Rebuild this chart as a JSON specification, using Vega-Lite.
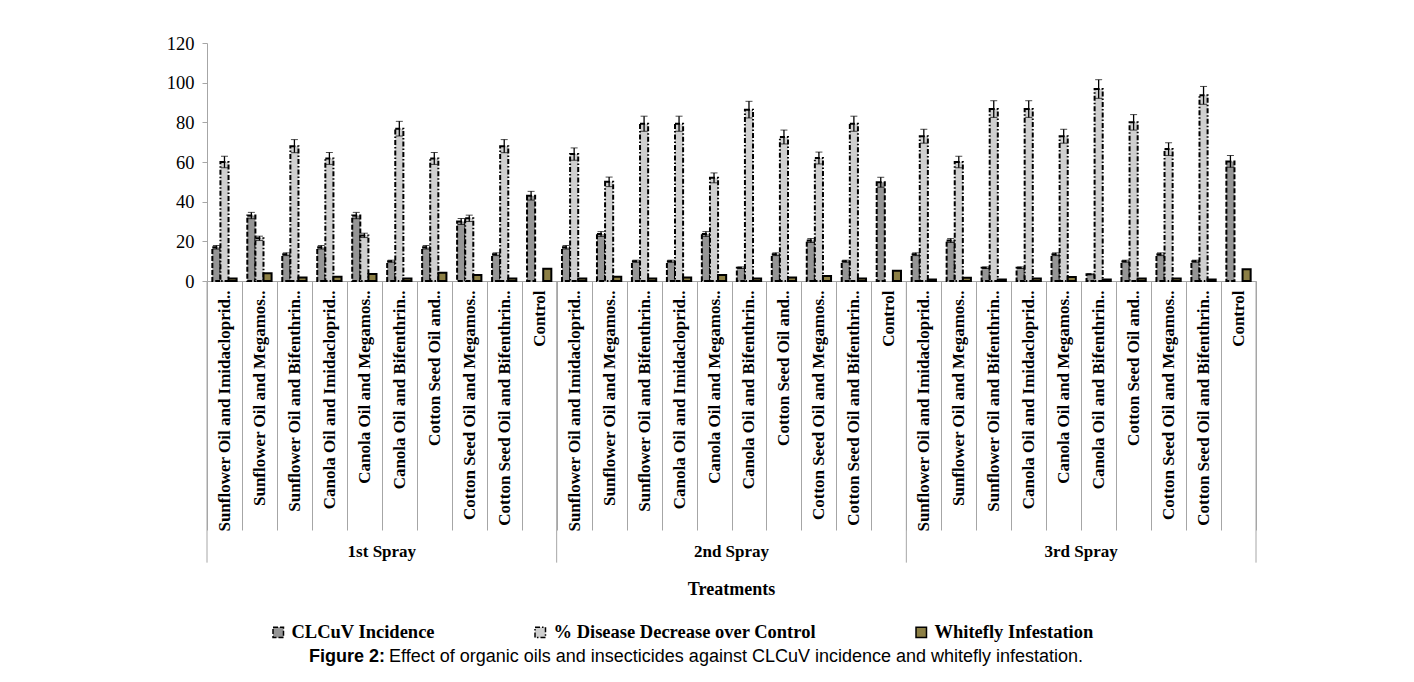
{
  "$schema": "https://vega.github.io/schema/vega-lite/v6.json",
  "padding": {"left": 166, "top": 34, "right": 150, "bottom": 5},
  "background": "white",
  "width": 1049,
  "height": 238,
  "data": {"values": [
    {"spray": "1st Spray", "key": "01|Sunflower Oil and Imidacloprid..", "series": "CLCuV Incidence", "value": 17, "err": 0.9},
    {"spray": "1st Spray", "key": "01|Sunflower Oil and Imidacloprid..", "series": "% Disease Decrease over Control", "value": 60, "err": 2.9},
    {"spray": "1st Spray", "key": "01|Sunflower Oil and Imidacloprid..", "series": "Whitefly Infestation", "value": 1.3},
    {"spray": "1st Spray", "key": "02|Sunflower Oil and Megamos..", "series": "CLCuV Incidence", "value": 33, "err": 1.6},
    {"spray": "1st Spray", "key": "02|Sunflower Oil and Megamos..", "series": "% Disease Decrease over Control", "value": 21.5, "err": 1.1},
    {"spray": "1st Spray", "key": "02|Sunflower Oil and Megamos..", "series": "Whitefly Infestation", "value": 3.9},
    {"spray": "1st Spray", "key": "03|Sunflower Oil and Bifenthrin..", "series": "CLCuV Incidence", "value": 13.5, "err": 0.7},
    {"spray": "1st Spray", "key": "03|Sunflower Oil and Bifenthrin..", "series": "% Disease Decrease over Control", "value": 68, "err": 3.3},
    {"spray": "1st Spray", "key": "03|Sunflower Oil and Bifenthrin..", "series": "Whitefly Infestation", "value": 1.8},
    {"spray": "1st Spray", "key": "04|Canola Oil and Imidacloprid..", "series": "CLCuV Incidence", "value": 17, "err": 0.9},
    {"spray": "1st Spray", "key": "04|Canola Oil and Imidacloprid..", "series": "% Disease Decrease over Control", "value": 61.8, "err": 3.0},
    {"spray": "1st Spray", "key": "04|Canola Oil and Imidacloprid..", "series": "Whitefly Infestation", "value": 2.2},
    {"spray": "1st Spray", "key": "05|Canola Oil and Megamos..", "series": "CLCuV Incidence", "value": 33, "err": 1.6},
    {"spray": "1st Spray", "key": "05|Canola Oil and Megamos..", "series": "% Disease Decrease over Control", "value": 23, "err": 1.1},
    {"spray": "1st Spray", "key": "05|Canola Oil and Megamos..", "series": "Whitefly Infestation", "value": 3.5},
    {"spray": "1st Spray", "key": "06|Canola Oil and Bifenthrin..", "series": "CLCuV Incidence", "value": 10, "err": 0.5},
    {"spray": "1st Spray", "key": "06|Canola Oil and Bifenthrin..", "series": "% Disease Decrease over Control", "value": 76.8, "err": 3.7},
    {"spray": "1st Spray", "key": "06|Canola Oil and Bifenthrin..", "series": "Whitefly Infestation", "value": 1.3},
    {"spray": "1st Spray", "key": "07|Cotton Seed Oil and..", "series": "CLCuV Incidence", "value": 17, "err": 0.9},
    {"spray": "1st Spray", "key": "07|Cotton Seed Oil and..", "series": "% Disease Decrease over Control", "value": 61.8, "err": 3.0},
    {"spray": "1st Spray", "key": "07|Cotton Seed Oil and..", "series": "Whitefly Infestation", "value": 4.2},
    {"spray": "1st Spray", "key": "08|Cotton Seed Oil and Megamos..", "series": "CLCuV Incidence", "value": 30, "err": 1.5},
    {"spray": "1st Spray", "key": "08|Cotton Seed Oil and Megamos..", "series": "% Disease Decrease over Control", "value": 31.6, "err": 1.6},
    {"spray": "1st Spray", "key": "08|Cotton Seed Oil and Megamos..", "series": "Whitefly Infestation", "value": 3.0},
    {"spray": "1st Spray", "key": "09|Cotton Seed Oil and Bifenthrin..", "series": "CLCuV Incidence", "value": 13.5, "err": 0.7},
    {"spray": "1st Spray", "key": "09|Cotton Seed Oil and Bifenthrin..", "series": "% Disease Decrease over Control", "value": 68, "err": 3.3},
    {"spray": "1st Spray", "key": "09|Cotton Seed Oil and Bifenthrin..", "series": "Whitefly Infestation", "value": 1.3},
    {"spray": "1st Spray", "key": "10|Control", "series": "CLCuV Incidence", "value": 43, "err": 2.2},
    {"spray": "1st Spray", "key": "10|Control", "series": "Whitefly Infestation", "value": 6.2},

    {"spray": "2nd Spray", "key": "11|Sunflower Oil and Imidacloprid..", "series": "CLCuV Incidence", "value": 17, "err": 0.9},
    {"spray": "2nd Spray", "key": "11|Sunflower Oil and Imidacloprid..", "series": "% Disease Decrease over Control", "value": 64, "err": 3.1},
    {"spray": "2nd Spray", "key": "11|Sunflower Oil and Imidacloprid..", "series": "Whitefly Infestation", "value": 1.3},
    {"spray": "2nd Spray", "key": "12|Sunflower Oil and Megamos..", "series": "CLCuV Incidence", "value": 23.7, "err": 1.2},
    {"spray": "2nd Spray", "key": "12|Sunflower Oil and Megamos..", "series": "% Disease Decrease over Control", "value": 50, "err": 2.4},
    {"spray": "2nd Spray", "key": "12|Sunflower Oil and Megamos..", "series": "Whitefly Infestation", "value": 2.2},
    {"spray": "2nd Spray", "key": "13|Sunflower Oil and Bifenthrin..", "series": "CLCuV Incidence", "value": 10, "err": 0.5},
    {"spray": "2nd Spray", "key": "13|Sunflower Oil and Bifenthrin..", "series": "% Disease Decrease over Control", "value": 79.3, "err": 3.8},
    {"spray": "2nd Spray", "key": "13|Sunflower Oil and Bifenthrin..", "series": "Whitefly Infestation", "value": 1.3},
    {"spray": "2nd Spray", "key": "14|Canola Oil and Imidacloprid..", "series": "CLCuV Incidence", "value": 10, "err": 0.5},
    {"spray": "2nd Spray", "key": "14|Canola Oil and Imidacloprid..", "series": "% Disease Decrease over Control", "value": 79.3, "err": 3.8},
    {"spray": "2nd Spray", "key": "14|Canola Oil and Imidacloprid..", "series": "Whitefly Infestation", "value": 1.8},
    {"spray": "2nd Spray", "key": "15|Canola Oil and Megamos..", "series": "CLCuV Incidence", "value": 23.7, "err": 1.2},
    {"spray": "2nd Spray", "key": "15|Canola Oil and Megamos..", "series": "% Disease Decrease over Control", "value": 52, "err": 2.5},
    {"spray": "2nd Spray", "key": "15|Canola Oil and Megamos..", "series": "Whitefly Infestation", "value": 3.0},
    {"spray": "2nd Spray", "key": "16|Canola Oil and Bifenthrin..", "series": "CLCuV Incidence", "value": 6.7, "err": 0.4},
    {"spray": "2nd Spray", "key": "16|Canola Oil and Bifenthrin..", "series": "% Disease Decrease over Control", "value": 86.4, "err": 4.2},
    {"spray": "2nd Spray", "key": "16|Canola Oil and Bifenthrin..", "series": "Whitefly Infestation", "value": 1.2},
    {"spray": "2nd Spray", "key": "17|Cotton Seed Oil and..", "series": "CLCuV Incidence", "value": 13.5, "err": 0.7},
    {"spray": "2nd Spray", "key": "17|Cotton Seed Oil and..", "series": "% Disease Decrease over Control", "value": 72.6, "err": 3.5},
    {"spray": "2nd Spray", "key": "17|Cotton Seed Oil and..", "series": "Whitefly Infestation", "value": 1.8},
    {"spray": "2nd Spray", "key": "18|Cotton Seed Oil and Megamos..", "series": "CLCuV Incidence", "value": 20.4, "err": 1.0},
    {"spray": "2nd Spray", "key": "18|Cotton Seed Oil and Megamos..", "series": "% Disease Decrease over Control", "value": 62, "err": 3.0},
    {"spray": "2nd Spray", "key": "18|Cotton Seed Oil and Megamos..", "series": "Whitefly Infestation", "value": 2.5},
    {"spray": "2nd Spray", "key": "19|Cotton Seed Oil and Bifenthrin..", "series": "CLCuV Incidence", "value": 10, "err": 0.5},
    {"spray": "2nd Spray", "key": "19|Cotton Seed Oil and Bifenthrin..", "series": "% Disease Decrease over Control", "value": 79.3, "err": 3.8},
    {"spray": "2nd Spray", "key": "19|Cotton Seed Oil and Bifenthrin..", "series": "Whitefly Infestation", "value": 1.2},
    {"spray": "2nd Spray", "key": "20|Control", "series": "CLCuV Incidence", "value": 49.8, "err": 2.5},
    {"spray": "2nd Spray", "key": "20|Control", "series": "Whitefly Infestation", "value": 5.2},

    {"spray": "3rd Spray", "key": "21|Sunflower Oil and Imidacloprid..", "series": "CLCuV Incidence", "value": 13.5, "err": 0.7},
    {"spray": "3rd Spray", "key": "21|Sunflower Oil and Imidacloprid..", "series": "% Disease Decrease over Control", "value": 73, "err": 3.5},
    {"spray": "3rd Spray", "key": "21|Sunflower Oil and Imidacloprid..", "series": "Whitefly Infestation", "value": 0.8},
    {"spray": "3rd Spray", "key": "22|Sunflower Oil and Megamos..", "series": "CLCuV Incidence", "value": 20.4, "err": 1.0},
    {"spray": "3rd Spray", "key": "22|Sunflower Oil and Megamos..", "series": "% Disease Decrease over Control", "value": 60, "err": 2.9},
    {"spray": "3rd Spray", "key": "22|Sunflower Oil and Megamos..", "series": "Whitefly Infestation", "value": 1.7},
    {"spray": "3rd Spray", "key": "23|Sunflower Oil and Bifenthrin..", "series": "CLCuV Incidence", "value": 6.7, "err": 0.4},
    {"spray": "3rd Spray", "key": "23|Sunflower Oil and Bifenthrin..", "series": "% Disease Decrease over Control", "value": 86.7, "err": 4.2},
    {"spray": "3rd Spray", "key": "23|Sunflower Oil and Bifenthrin..", "series": "Whitefly Infestation", "value": 0.8},
    {"spray": "3rd Spray", "key": "24|Canola Oil and Imidacloprid..", "series": "CLCuV Incidence", "value": 6.7, "err": 0.4},
    {"spray": "3rd Spray", "key": "24|Canola Oil and Imidacloprid..", "series": "% Disease Decrease over Control", "value": 86.7, "err": 4.2},
    {"spray": "3rd Spray", "key": "24|Canola Oil and Imidacloprid..", "series": "Whitefly Infestation", "value": 1.3},
    {"spray": "3rd Spray", "key": "25|Canola Oil and Megamos..", "series": "CLCuV Incidence", "value": 13.5, "err": 0.7},
    {"spray": "3rd Spray", "key": "25|Canola Oil and Megamos..", "series": "% Disease Decrease over Control", "value": 73, "err": 3.5},
    {"spray": "3rd Spray", "key": "25|Canola Oil and Megamos..", "series": "Whitefly Infestation", "value": 2.0},
    {"spray": "3rd Spray", "key": "26|Canola Oil and Bifenthrin..", "series": "CLCuV Incidence", "value": 3.4, "err": 0.2},
    {"spray": "3rd Spray", "key": "26|Canola Oil and Bifenthrin..", "series": "% Disease Decrease over Control", "value": 96.8, "err": 4.7},
    {"spray": "3rd Spray", "key": "26|Canola Oil and Bifenthrin..", "series": "Whitefly Infestation", "value": 0.7},
    {"spray": "3rd Spray", "key": "27|Cotton Seed Oil and..", "series": "CLCuV Incidence", "value": 10, "err": 0.5},
    {"spray": "3rd Spray", "key": "27|Cotton Seed Oil and..", "series": "% Disease Decrease over Control", "value": 80, "err": 3.9},
    {"spray": "3rd Spray", "key": "27|Cotton Seed Oil and..", "series": "Whitefly Infestation", "value": 1.2},
    {"spray": "3rd Spray", "key": "28|Cotton Seed Oil and Megamos..", "series": "CLCuV Incidence", "value": 13.5, "err": 0.7},
    {"spray": "3rd Spray", "key": "28|Cotton Seed Oil and Megamos..", "series": "% Disease Decrease over Control", "value": 66.5, "err": 3.2},
    {"spray": "3rd Spray", "key": "28|Cotton Seed Oil and Megamos..", "series": "Whitefly Infestation", "value": 1.3},
    {"spray": "3rd Spray", "key": "29|Cotton Seed Oil and Bifenthrin..", "series": "CLCuV Incidence", "value": 10, "err": 0.5},
    {"spray": "3rd Spray", "key": "29|Cotton Seed Oil and Bifenthrin..", "series": "% Disease Decrease over Control", "value": 93.6, "err": 4.5},
    {"spray": "3rd Spray", "key": "29|Cotton Seed Oil and Bifenthrin..", "series": "Whitefly Infestation", "value": 0.8},
    {"spray": "3rd Spray", "key": "30|Control", "series": "CLCuV Incidence", "value": 60.3, "err": 3.0},
    {"spray": "3rd Spray", "key": "30|Control", "series": "Whitefly Infestation", "value": 5.9}
  ]},
  "layer": [
    {
      "mark": {"type": "bar", "stroke": "black", "strokeWidth": 2},
      "encoding": {
        "x": {"field": "key", "type": "nominal", "sort": "ascending",
          "scale": {"paddingInner": 0, "paddingOuter": 0},
          "axis": {"title": null, "labelExpr": "split(datum.value, '|')[1]", "labelAngle": -90, "tickBand": "extent", "tickSize": 249, "tickColor": "#a6a6a6", "tickWidth": 1, "domainColor": "#a6a6a6", "labelPadding": -240, "labelFont": "Liberation Serif", "labelFontWeight": "bold", "labelFontSize": 17, "labelColor": "black", "labelLimit": 400, "labelOverlap": false}},
        "xOffset": {"field": "series", "sort": ["CLCuV Incidence", "% Disease Decrease over Control", "Whitefly Infestation"], "scale": {"paddingOuter": 0.66, "paddingInner": 0}},
        "y": {"field": "value", "type": "quantitative", "scale": {"domain": [0, 120], "nice": false},
          "axis": {"title": null, "values": [0, 20, 40, 60, 80, 100, 120], "tickCount": 7, "grid": false, "labelOverlap": false, "labelSeparation": 0, "labelBound": false, "domainColor": "#a6a6a6", "tickColor": "#a6a6a6", "tickSize": 5, "labelPadding": 8, "labelFont": "Liberation Serif", "labelFontSize": 18.5, "labelColor": "black"}},
        "color": {"field": "series", "type": "nominal",
          "scale": {"domain": ["CLCuV Incidence", "% Disease Decrease over Control", "Whitefly Infestation"], "range": ["#959595", "#cfcfcf", "#8c7f45"]},
          "legend": {"title": null, "orient": "none", "legendX": 62, "legendY": 580, "direction": "horizontal", "symbolType": "square", "symbolSize": 110, "symbolStrokeColor": "black", "symbolStrokeWidth": 1.5, "labelFont": "Liberation Serif", "labelFontSize": 18.5, "labelFontWeight": "bold", "labelColor": "black", "columnPadding": 96, "labelLimit": 400}},
        "strokeDash": {"field": "series", "type": "nominal",
          "scale": {"domain": ["CLCuV Incidence", "% Disease Decrease over Control", "Whitefly Infestation"], "range": [[5, 2], [5, 2, 1.5, 2], [1, 0]]},
          "legend": null}
      }
    },
    {
      "transform": [{"filter": "isValid(datum.err)"}],
      "mark": {"type": "errorbar", "ticks": {"size": 7, "color": "black"}, "rule": {"color": "black", "strokeWidth": 1.3}},
      "encoding": {
        "x": {"field": "key", "type": "nominal", "sort": "ascending"},
        "xOffset": {"field": "series", "sort": ["CLCuV Incidence", "% Disease Decrease over Control", "Whitefly Infestation"]},
        "y": {"field": "value", "type": "quantitative", "axis": {"title": null, "values": [0, 20, 40, 60, 80, 100, 120], "labelOverlap": false}},
        "yError": {"field": "err"}
      }
    },
    {
      "transform": [{"filter": "datum.series == 'CLCuV Incidence' && (datum.key == '01|Sunflower Oil and Imidacloprid..' || datum.key == '11|Sunflower Oil and Imidacloprid..' || datum.key == '21|Sunflower Oil and Imidacloprid..')"}],
      "mark": {"type": "rule", "color": "#a6a6a6", "strokeWidth": 1},
      "encoding": {
        "x": {"field": "key", "type": "nominal", "sort": "ascending", "bandPosition": 0},
        "y": {"datum": 0},
        "y2": {"datum": -142}
      }
    },
    {
      "transform": [{"filter": "datum.series == 'CLCuV Incidence' && datum.key == '30|Control'"}],
      "mark": {"type": "rule", "color": "#a6a6a6", "strokeWidth": 1},
      "encoding": {
        "x": {"field": "key", "type": "nominal", "sort": "ascending", "bandPosition": 1},
        "y": {"datum": 0},
        "y2": {"datum": -142}
      }
    },
    {
      "transform": [{"filter": "datum.series == 'CLCuV Incidence' && (datum.key == '05|Canola Oil and Megamos..' || datum.key == '15|Canola Oil and Megamos..' || datum.key == '25|Canola Oil and Megamos..')"}],
      "mark": {"type": "text", "font": "Liberation Serif", "fontSize": 17, "fontWeight": "bold", "color": "black", "align": "center", "baseline": "middle"},
      "encoding": {
        "x": {"field": "key", "type": "nominal", "sort": "ascending", "bandPosition": 1},
        "y": {"datum": -136.6},
        "text": {"field": "spray"}
      }
    },
    {
      "transform": [{"filter": "datum.series == 'CLCuV Incidence' && datum.key == '15|Canola Oil and Megamos..'"}],
      "mark": {"type": "text", "font": "Liberation Serif", "fontSize": 18, "fontWeight": "bold", "color": "black", "align": "center", "baseline": "middle"},
      "encoding": {
        "x": {"field": "key", "type": "nominal", "sort": "ascending", "bandPosition": 1},
        "y": {"datum": -155.8},
        "text": {"value": "Treatments"}
      }
    },
    {
      "transform": [{"filter": "datum.series == 'CLCuV Incidence' && datum.key == '06|Canola Oil and Bifenthrin..'"}],
      "mark": {"type": "text", "font": "Liberation Sans", "fontSize": 18, "fontWeight": "bold", "color": "black", "align": "right", "baseline": "middle", "dx": -4},
      "encoding": {
        "x": {"field": "key", "type": "nominal", "sort": "ascending", "bandPosition": 0.206},
        "y": {"datum": -189.6},
        "text": {"value": "Figure 2:"}
      }
    },
    {
      "transform": [{"filter": "datum.series == 'CLCuV Incidence' && datum.key == '06|Canola Oil and Bifenthrin..'"}],
      "mark": {"type": "text", "font": "Liberation Sans", "fontSize": 18, "fontWeight": "normal", "color": "black", "align": "left", "baseline": "middle"},
      "encoding": {
        "x": {"field": "key", "type": "nominal", "sort": "ascending", "bandPosition": 0.206},
        "y": {"datum": -189.6},
        "text": {"value": "Effect of organic oils and insecticides against CLCuV incidence and whitefly infestation."}
      }
    }
  ],
  "config": {"view": {"stroke": null}, "font": "Liberation Serif", "axisY": {"labelOverlap": false}, "axis": {"labelOverlap": false}}
}
